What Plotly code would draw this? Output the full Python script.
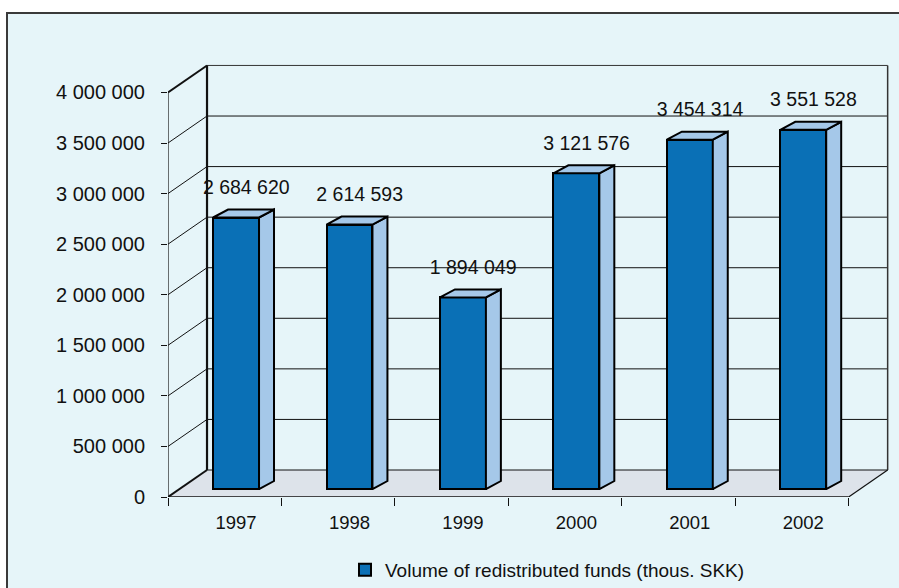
import plotly.graph_objects as go

# ---------------- data ----------------
years = ["1997", "1998", "1999", "2000", "2001", "2002"]
values = [2684620, 2614593, 1894049, 3121576, 3454314, 3551528]
y_tick_values = [0, 500000, 1000000, 1500000, 2000000, 2500000, 3000000, 3500000, 4000000]
series_name = "Volume of redistributed funds (thous. SKK)"


def fmt(v):
    return f"{v:,}".replace(",", " ")


y_tick_text = [fmt(v) for v in y_tick_values]
value_labels = [fmt(v) for v in values]

# ---------------- geometry (axis units) ----------------
X_MIN, X_MAX = -0.5, 5.9
Y_MAX = 4.4e6
WALL_DX, WALL_DY = 0.344, 0.267e6      # depth of the 3-D box
BAR_SHIFT_X, BAR_SHIFT_Y = 0.1, 0.079e6  # bar front face inside the depth
BAR_W = 0.405
BAR_DX, BAR_DY = 0.132, 0.079e6        # bar depth
n = len(years)
x_left, x_right = -0.5, n - 0.5
y_top = max(y_tick_values)

FONT = "Liberation Sans, Arial, sans-serif"
FRONT = "#0a70b6"
SIDE = "#a5c8e9"
FLOOR = "#dde3ea"
BG = "#e6f5f9"

# plot area in pixels
L, R, T, B = 168, 5, 52, 91
W, H = 899, 588
pw, ph = W - L - R, H - T - B


def px_x(p):
    return (p - L) / pw


def px_y(p):
    return (H - B - p) / ph


xs = [i + BAR_SHIFT_X for i in range(n)]

fig = go.Figure()

# front faces of the bars
fig.add_trace(go.Bar(
    x=xs, y=values, base=BAR_SHIFT_Y, width=BAR_W,
    marker=dict(color=FRONT, line=dict(color="black", width=2)),
    name=series_name, showlegend=True, hoverinfo="skip",
))

# side and top faces, built from the values
side_x, side_y, top_x, top_y = [], [], [], []
for xc, v in zip(xs, values):
    x0, x1 = xc - BAR_W / 2, xc + BAR_W / 2
    y0, y1 = BAR_SHIFT_Y, BAR_SHIFT_Y + v
    side_x += [x1, x1 + BAR_DX, x1 + BAR_DX, x1, x1, None]
    side_y += [y0, y0 + BAR_DY, y1 + BAR_DY, y1, y0, None]
    top_x += [x0, x0 + BAR_DX, x1 + BAR_DX, x1, x0, None]
    top_y += [y1, y1 + BAR_DY, y1 + BAR_DY, y1, y1, None]

for px_, py_ in ((side_x, side_y), (top_x, top_y)):
    fig.add_trace(go.Scatter(
        x=px_, y=py_, mode="lines", fill="toself", fillcolor=SIDE,
        line=dict(color="black", width=2), showlegend=False, hoverinfo="skip",
    ))

# value labels
fig.add_trace(go.Scatter(
    x=[xc + 0.09 for xc in xs],
    y=[v + BAR_SHIFT_Y + BAR_DY + 0.2e6 for v in values],
    mode="text", text=value_labels, textposition="middle center",
    textfont=dict(family=FONT, size=19.5, color="#111"),
    showlegend=False, hoverinfo="skip",
))

# ---------------- 3-D box (walls, floor, gridlines) ----------------
shapes = []
# outer frame
shapes.append(dict(type="rect", xref="paper", yref="paper",
                   x0=px_x(7), x1=px_x(915), y0=px_y(13), y1=px_y(610),
                   fillcolor=BG, line=dict(color="#3a3a3a", width=2), layer="below"))
# floor
shapes.append(dict(type="path", xref="x", yref="y", layer="below",
                   path=f"M {x_left},0 L {x_right},0 L {x_right + WALL_DX},{WALL_DY} "
                        f"L {x_left + WALL_DX},{WALL_DY} Z",
                   fillcolor=FLOOR, line=dict(width=0)))


def seg(x0, y0, x1, y1, width=1, color="#111"):
    shapes.append(dict(type="line", xref="x", yref="y", layer="below",
                       x0=x0, y0=y0, x1=x1, y1=y1,
                       line=dict(color=color, width=width)))


for t in y_tick_values:
    seg(x_left + WALL_DX, t + WALL_DY, x_right + WALL_DX, t + WALL_DY, 1,
        "#333" if t == y_top else "#111")
    seg(x_left, t, x_left + WALL_DX, t + WALL_DY,
        2 if t in (0, y_top) else 1)
seg(x_left + WALL_DX, WALL_DY, x_left + WALL_DX, y_top + WALL_DY, 2.2)
seg(x_right + WALL_DX, WALL_DY, x_right + WALL_DX, y_top + WALL_DY, 1.5, "#333")
seg(x_left, 0, x_left, y_top, 1.2)
seg(x_left, 0, x_right, 0, 1.5)
seg(x_right, 0, x_right + WALL_DX, WALL_DY, 1.2)

fig.update_layout(
    width=W, height=H,
    margin=dict(l=L, r=R, t=T, b=B, autoexpand=False),
    paper_bgcolor="white", plot_bgcolor="rgba(0,0,0,0)",
    font=dict(family=FONT, size=18, color="#111"),
    shapes=shapes,
    bargap=0,
    showlegend=True,
    hovermode=False,
    legend=dict(orientation="h", x=px_x(345), y=px_y(570), xanchor="left",
                yanchor="middle", bgcolor="rgba(0,0,0,0)",
                font=dict(family=FONT, size=19, color="#111")),
    xaxis=dict(range=[X_MIN, X_MAX], tickmode="array", tickvals=xs, ticktext=years,
               ticks="", showgrid=False, zeroline=False, showline=False,
               tickfont=dict(family=FONT, size=18.5), ticklabelstandoff=12,
               minor=dict(tickmode="array",
                          tickvals=[x_left + i for i in range(n + 1)],
                          ticks="outside", ticklen=8, tickcolor="#111",
                          tickwidth=1, showgrid=False)),
    yaxis=dict(range=[0, Y_MAX], tickmode="array", tickvals=y_tick_values,
               ticktext=y_tick_text, ticks="outside", ticklen=6, tickcolor="#111",
               showgrid=False, zeroline=False, showline=False,
               tickfont=dict(family=FONT, size=20), ticklabelstandoff=12),
)

fig.write_html("out.html",
               config={"displayModeBar": False},
               post_script="document.body.style.margin='0px';"
                           "document.body.style.overflow='hidden';")
